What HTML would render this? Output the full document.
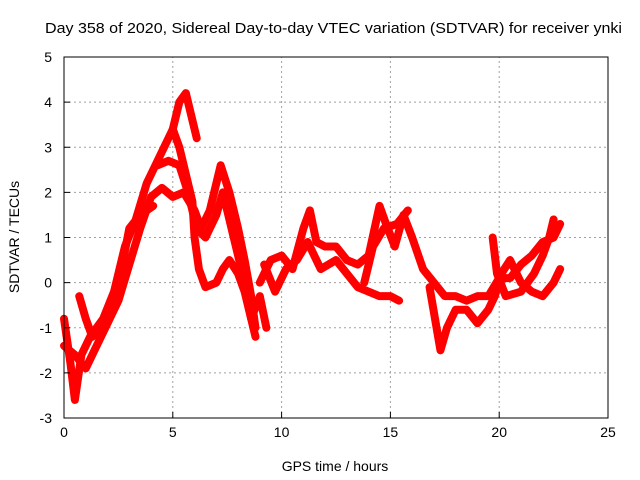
<!DOCTYPE html>
<html><head><meta charset="utf-8"><style>
body{margin:0;background:#fff;}
svg{display:block;font-family:"Liberation Sans",sans-serif;}
</style></head><body>
<svg id="chart" width="640" height="480">
<text x="45" y="33" font-size="15" textLength="577" lengthAdjust="spacingAndGlyphs">Day 358 of 2020, Sidereal Day-to-day VTEC variation (SDTVAR) for receiver ynki</text>
<text x="335" y="471" font-size="14" text-anchor="middle">GPS time / hours</text>
<text transform="translate(19,237) rotate(-90)" font-size="14" text-anchor="middle">SDTVAR / TECUs</text>
<g id="grid"></g><g id="series"></g><g id="axes"></g>
</svg>
<script>
const xTicks=[0,5,10,15,20,25];
const yTicks=[-3,-2,-1,0,1,2,3,4,5];
const trackA=[[0,-0.8],[0.3,-1.8],[0.5,-2.6],[0.8,-1.6],[1.2,-1.2],[1.8,-0.8],[2.3,-0.2],[2.8,0.8],[3.3,1.4],[3.8,2.2],[4.2,2.6],[4.6,3.0],[5.0,3.4],[5.3,4.0],[5.6,4.2],[5.8,3.8],[6.0,3.4],[6.1,3.2]];
const trackB=[[5.0,3.4],[5.3,3.0],[5.6,2.4],[5.9,1.8],[6.0,1.0],[6.2,0.3],[6.5,-0.1],[7.0,0],[7.3,0.3],[7.6,0.5],[8.0,0.2],[8.3,-0.2],[8.6,-0.8],[9.0,-0.3],[9.3,-1.0]];
const trackC=[[0,-1.4],[0.5,-1.6],[1,-1.9],[1.5,-1.4],[2,-0.9],[2.5,-0.4],[3,0.4],[3.5,1.2],[4,1.9],[4.5,2.1],[5,1.9],[5.5,2.0],[6,1.6],[6.3,1.2],[6.7,1.6],[7.2,2.6],[7.6,2.0],[8.0,1.2],[8.3,0.5],[8.6,-0.3],[8.8,-1.0]];
const trackD=[[4.3,2.6],[4.8,2.7],[5.3,2.6],[5.7,2.0],[6.1,1.2],[6.5,1.0],[7.0,1.5],[7.3,2.0],[7.6,1.4],[7.8,1.0],[8.0,0.6],[8.3,0],[8.6,-0.8],[8.8,-1.2]];
const trackE=[[0.7,-0.3],[1.0,-0.8],[1.3,-1.2],[1.7,-1.0],[2.1,-0.6],[2.6,0.2],[3.0,1.2],[3.5,1.5],[4.1,1.7]];
const trackF=[[9,0.0],[9.5,0.5],[10,0.6],[10.5,0.3],[11,1.2],[11.3,1.6],[11.6,0.9],[12,0.8],[12.5,0.8],[13,0.5],[13.5,0.4],[14,0.6],[14.5,1.7],[14.8,1.3],[15.2,0.8],[15.6,1.5],[16,1.0],[16.5,0.3],[17,0],[17.5,-0.3],[18,-0.3],[18.5,-0.4],[19,-0.3],[19.5,-0.3],[20,0.1],[20.5,0.1],[21,0.4],[21.5,0.6],[22,0.9],[22.5,1.0],[22.8,1.3]];
const trackG=[[9.2,0.4],[9.7,-0.2],[10.2,0.3],[10.7,0.5],[11.2,0.9],[11.8,0.3],[12.5,0.5],[13,0.2],[13.5,-0.1],[14,-0.2],[14.5,-0.3],[15,-0.3],[15.4,-0.4]];
const trackH=[[13.8,0],[14.2,0.8],[14.7,1.2],[15.3,1.3],[15.8,1.6]];
const trackI=[[16.8,-0.1],[17.3,-1.5],[17.6,-1.0],[18,-0.6],[18.5,-0.6],[19,-0.9],[19.5,-0.6],[19.8,-0.3],[20.1,0.2],[20.5,0.5],[21,0],[21.5,-0.2],[22,-0.3],[22.5,0],[22.8,0.3]];
const trackJ=[[19.7,1.0],[19.9,0.2],[20.3,-0.3],[21,-0.2],[21.6,0.2],[22,0.6],[22.3,1.0],[22.5,1.4]];
const tracks=[trackA,trackB,trackC,trackD,trackE,trackF,trackG,trackH,trackI,trackJ];
const X0=64,X1=608,Y0=418,Y1=57,xmin=0,xmax=25,ymin=-3,ymax=5;
const sx=t=>X0+(t-xmin)/(xmax-xmin)*(X1-X0);
const sy=v=>Y0-(v-ymin)/(ymax-ymin)*(Y0-Y1);
const NS='http://www.w3.org/2000/svg';
function mk(tag,attrs,parent){const e=document.createElementNS(NS,tag);for(const k in attrs)e.setAttribute(k,attrs[k]);parent.appendChild(e);return e;}
const grid=document.getElementById('grid'),axes=document.getElementById('axes'),ser=document.getElementById('series');
xTicks.forEach(t=>{
  if(t>xmin&&t<xmax){const g=mk('line',{x1:sx(t),x2:sx(t),y1:Y0,y2:Y1,stroke:'#a0a0a0','stroke-dasharray':'2,3'},grid);
  
  }
  const tk=mk('line',{x1:sx(t),x2:sx(t),y1:Y0,y2:Y0-6,stroke:'#000'},axes);
  
  
  const lb=mk('text',{x:sx(t),y:Y0+19,'font-size':14,'text-anchor':'middle'},axes);lb.textContent=t;
  
  
});
yTicks.forEach(v=>{
  if(v>ymin&&v<ymax){const g=mk('line',{x1:X0,x2:X1,y1:sy(v),y2:sy(v),stroke:'#a0a0a0','stroke-dasharray':'2,3'},grid);
  
  }
  const tk=mk('line',{x1:X0,x2:X0+6,y1:sy(v),y2:sy(v),stroke:'#000'},axes);
  
  
  const lb=mk('text',{x:X0-12,y:sy(v)+5,'font-size':14,'text-anchor':'end'},axes);lb.textContent=v;
  
  
});
const fr=mk('rect',{x:X0,y:Y1,width:X1-X0,height:Y0-Y1,fill:'none',stroke:'#000'},axes);


tracks.forEach((tr,i)=>{
  const p=mk('polyline',{points:tr.map(d=>sx(d[0])+','+sy(d[1])).join(' '),fill:'none',stroke:'#ff0000','stroke-width':8,'stroke-linejoin':'round','stroke-linecap':'round'},ser);
  
  
});
</script>
</body></html>
